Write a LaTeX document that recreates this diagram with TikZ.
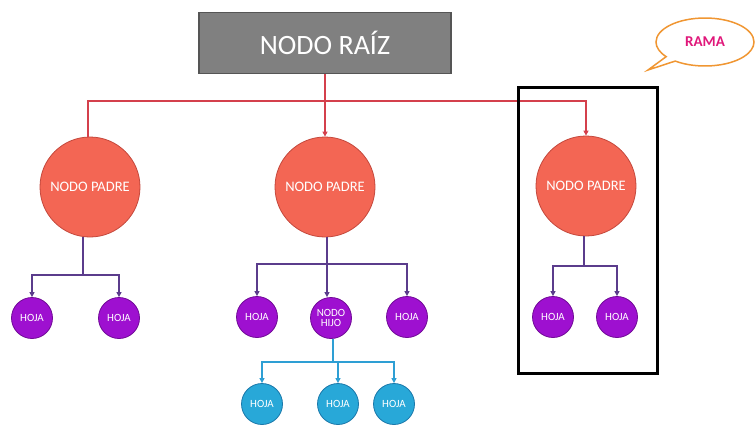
\documentclass[tikz,border=0pt]{standalone}
\usepackage{fontspec}
\setmainfont{Carlito}
\usetikzlibrary{arrows.meta,shapes.callouts}

\definecolor{rootgray}{RGB}{128,128,128}
\definecolor{rootedge}{RGB}{85,85,85}
\definecolor{padrefill}{RGB}{243,102,84}
\definecolor{padreedge}{RGB}{196,72,60}
\definecolor{hojafill}{RGB}{158,16,208}
\definecolor{hojaedge}{RGB}{112,10,150}
\definecolor{azulfill}{RGB}{40,168,216}
\definecolor{azuledge}{RGB}{26,120,170}
\definecolor{redline}{RGB}{212,64,76}
\definecolor{purpline}{RGB}{91,60,140}
\definecolor{blueline}{RGB}{46,159,212}
\definecolor{ramatext}{RGB}{224,23,122}
\definecolor{ramaedge}{RGB}{240,150,50}

\begin{document}
\begin{tikzpicture}[x=1pt,y=-1pt,
  rootbox/.style={draw=rootedge, fill=rootgray, line width=1.5pt,
    minimum width=252, minimum height=61, inner sep=0, text=white,
    font=\fontsize{28}{30}\selectfont},
  padre/.style={circle, draw=padreedge, fill=padrefill, line width=0.8pt,
    minimum size=100, inner sep=0, text=white,
    font=\fontsize{14.5}{16}\selectfont},
  hoja/.style={circle, draw=hojaedge, fill=hojafill, line width=0.8pt,
    minimum size=41, inner sep=0, text=white, align=center,
    font=\fontsize{11}{11}\selectfont},
  azul/.style={hoja, draw=azuledge, fill=azulfill},
  rlink/.style={draw=redline, line width=1.2pt},
  plink/.style={draw=purpline, line width=2pt},
  blink/.style={draw=blueline, line width=1.5pt},
  tip/.style={-{Triangle[length=5pt,width=5pt]}}
]
\useasboundingbox (0,0) rectangle (756,424);

% root and parent nodes
\node[rootbox] (root) at (325,43) {NODO RAÍZ};
\node[padre] (p1) at (90,187) {NODO PADRE};
\node[padre] (p2) at (325,187) {NODO PADRE};
\node[padre] (p3) at (586,186) {NODO PADRE};

% leaves of the first parent
\node[hoja] (h11) at (32,318) {HOJA};
\node[hoja] (h12) at (119,318) {HOJA};

% children of the middle parent
\node[hoja] (h21) at (257,317) {HOJA};
\node[hoja] (hijo) at (331,318) {NODO\\[-1pt]HIJO};
\node[hoja] (h23) at (407,317) {HOJA};

% leaves of the child node
\node[azul] (a1) at (262,404) {HOJA};
\node[azul] (a2) at (338,404) {HOJA};
\node[azul] (a3) at (394,404) {HOJA};

% leaves of the third parent
\node[hoja] (h31) at (553,317) {HOJA};
\node[hoja] (h32) at (617,317) {HOJA};

% red links from the root
\coordinate (rbus) at (325,101);
\draw[rlink] (root.south) -- (rbus);
\draw[rlink] (rbus) -| (p1.north -| 88,0);
\draw[rlink,tip] (rbus) -- (p2.north);
\draw[rlink,tip] (rbus) -| (p3.north);

% purple links, first parent
\coordinate (b1) at (83,275);
\draw[plink] (p1.south -| b1) -- (b1);
\draw[plink,tip] (b1) -| (h11.north);
\draw[plink,tip] (b1) -| (h12.north);

% purple links, middle parent
\coordinate (b2) at (327,264);
\draw[plink] (p2.south -| b2) -- (b2);
\draw[plink,tip] (b2) -| (h21.north);
\draw[plink,tip] (b2) -- (hijo.north -| b2);
\draw[plink,tip] (b2) -| (h23.north);

% blue links from the child node
\coordinate (b4) at (333,362);
\draw[blink] (hijo.south -| b4) -- (b4);
\draw[blink,tip] (b4) -| (a1.north);
\draw[blink,tip] (b4) -| (a2.north);
\draw[blink,tip] (b4) -| (a3.north);

% purple links, third parent
\coordinate (b3) at (584,266);
\draw[plink] (p3.south -| b3) -- (b3);
\draw[plink,tip] (b3) -| (h31.north);
\draw[plink,tip] (b3) -| (h32.north);

% frame around one branch
\node[draw=black, line width=3pt, minimum width=139, minimum height=286,
  inner sep=0] (rama) at (587.5,230) {};

% callout label
\node[ellipse callout, draw=ramaedge, fill=white, line width=1.5pt,
  minimum width=98, minimum height=48, inner sep=0,
  callout absolute pointer={(648,70)},
  text=ramatext, font=\bfseries\fontsize{15}{16}\selectfont]
  (label) at (705,42) {RAMA};
\end{tikzpicture}
\end{document}
